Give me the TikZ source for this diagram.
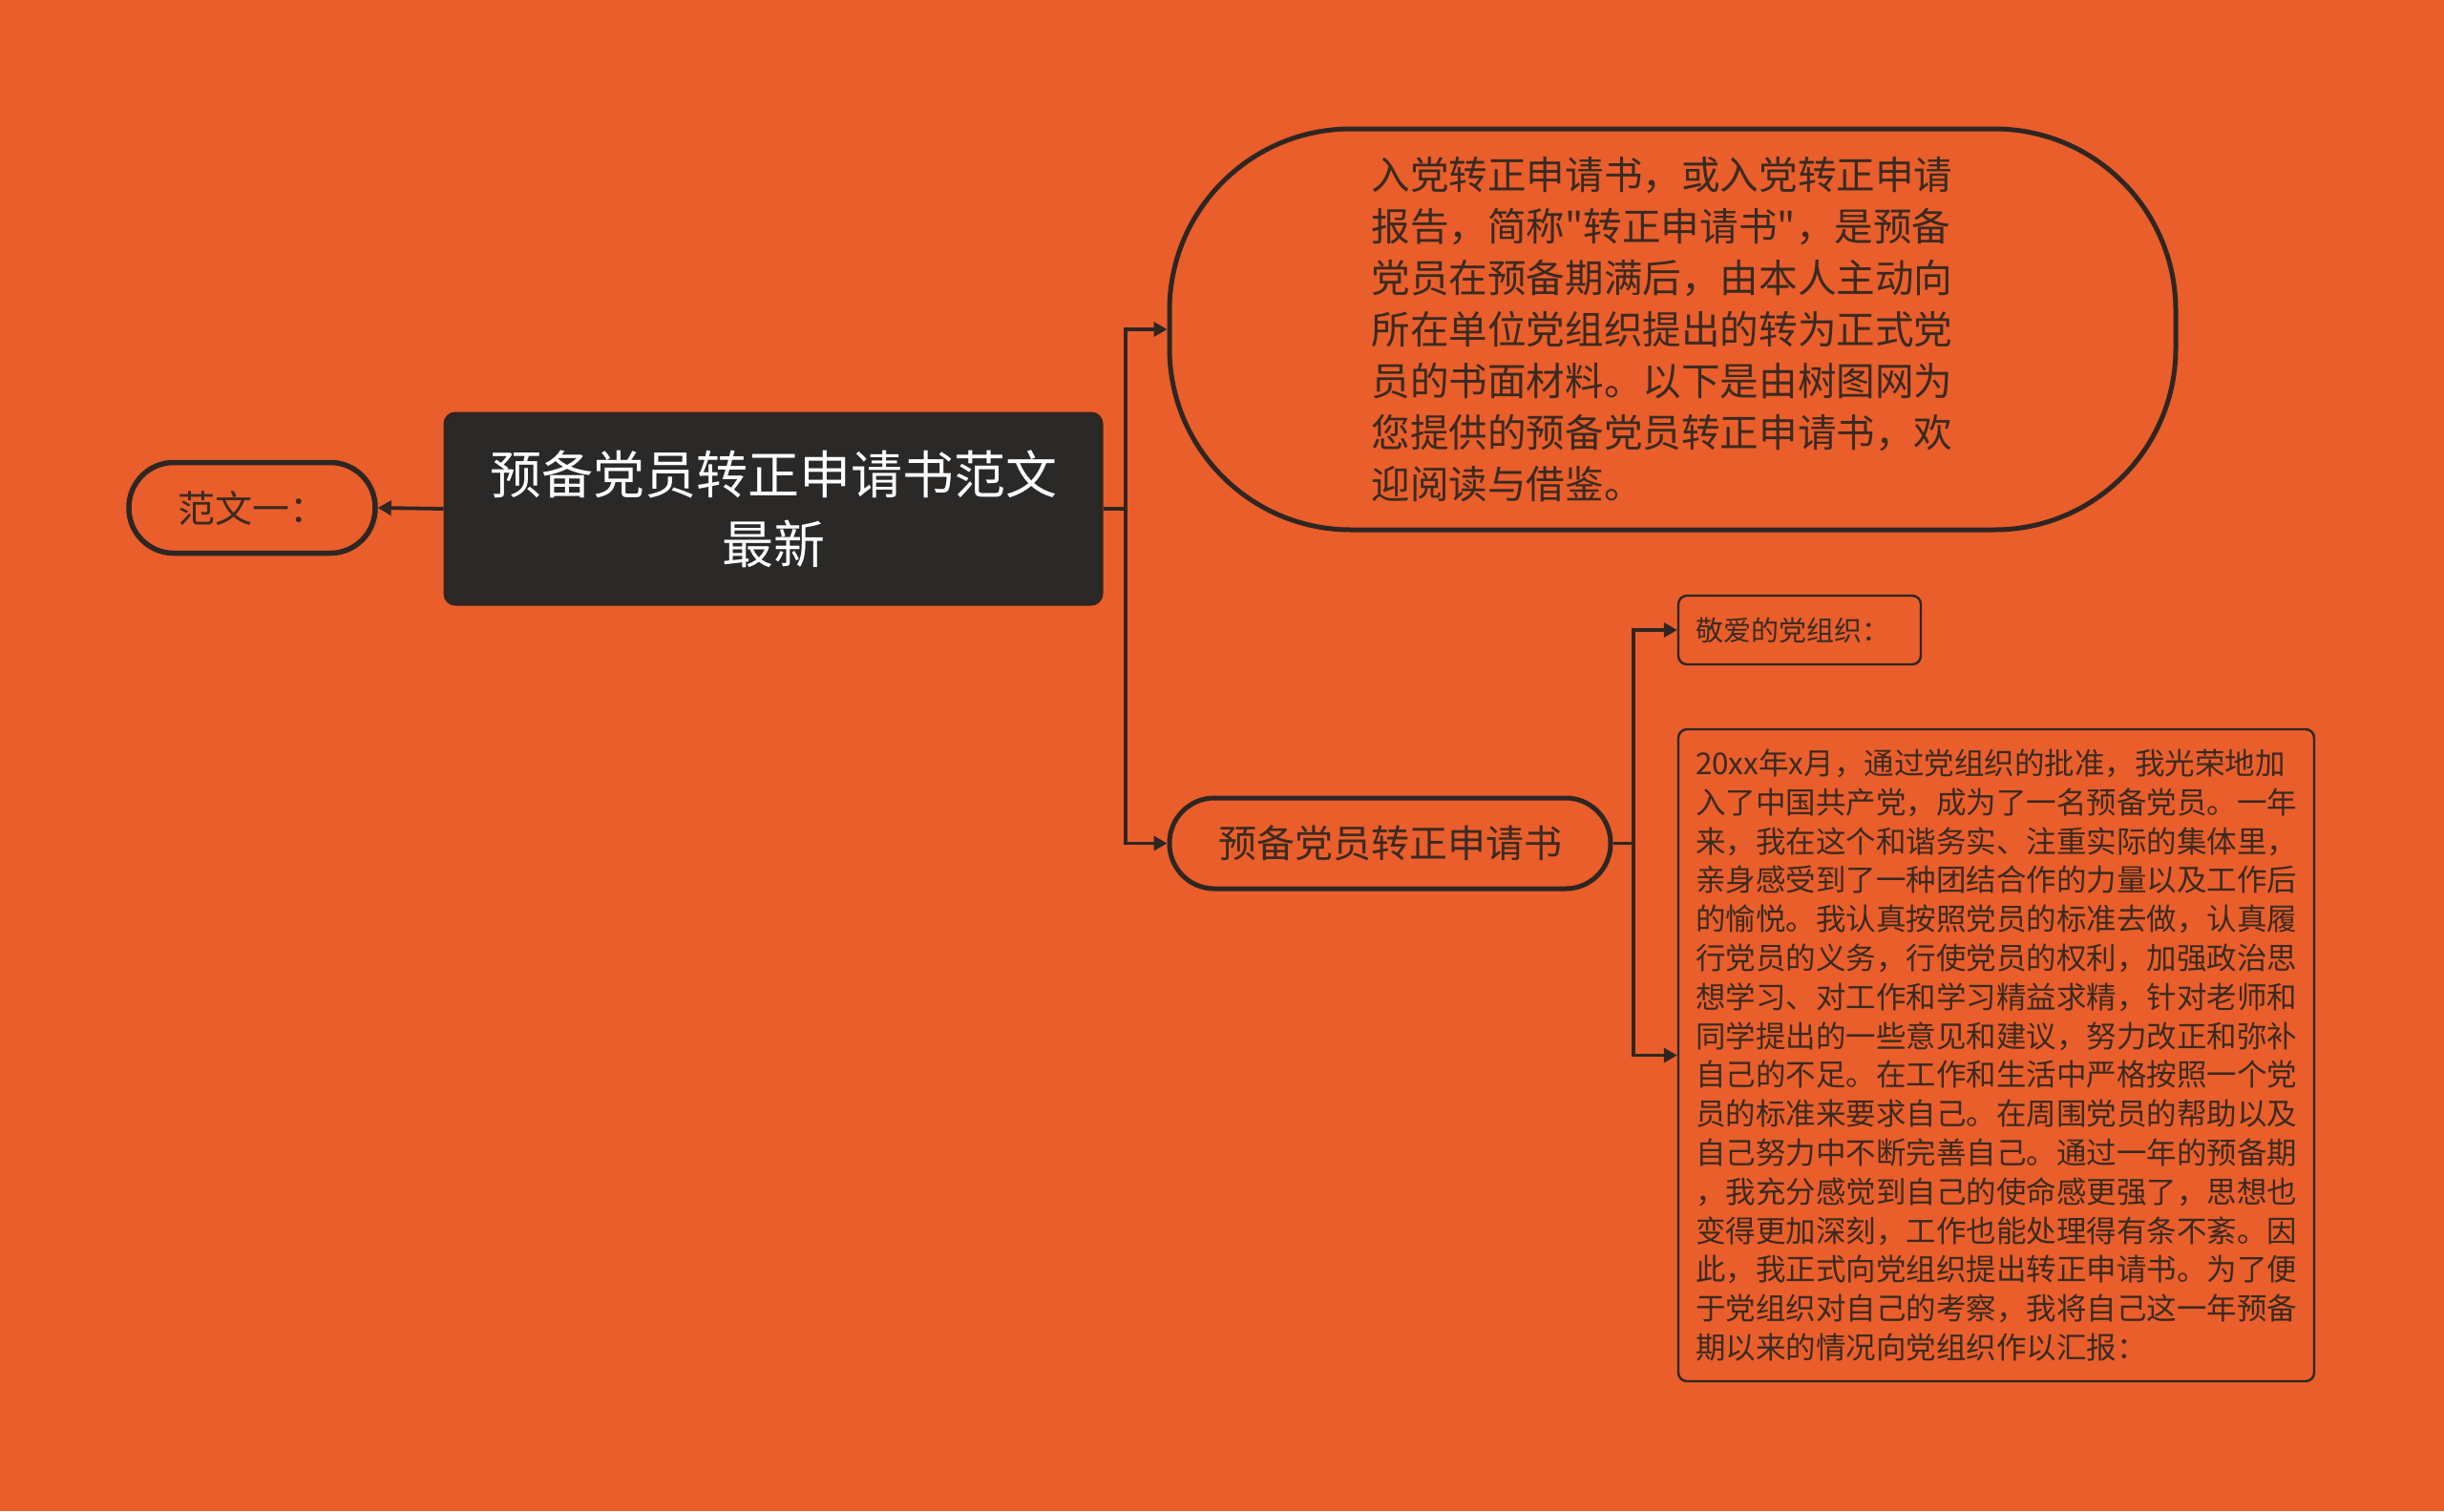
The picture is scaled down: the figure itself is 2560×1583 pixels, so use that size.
\documentclass[tikz,border=0pt]{standalone}
\usepackage{fontspec}
\setmainfont{Noto Sans CJK SC}[Ligatures=TeXOff]
\usetikzlibrary{arrows.meta}

\definecolor{bgorange}{HTML}{E95E2A}
\definecolor{inkdark}{HTML}{2E2622}
\definecolor{rootfill}{HTML}{2A2928}
\definecolor{textdark}{HTML}{3A2A20}

\begin{document}
\begin{tikzpicture}[x=1pt,y=-1pt,
    every node/.style={inner sep=0pt, text=textdark},
    link/.style={draw=inkdark, line width=3.8pt},
    tip/.style={link, -{Triangle[length=14pt,width=15pt]}},
    rootbox/.style={draw=inkdark, fill=rootfill, line width=5pt, rounded corners=10pt,
        minimum width=686pt, minimum height=198pt, align=center, text=white,
        font=\fontsize{54}{73}\selectfont},
    pill/.style={draw=inkdark, line width=5pt, rounded corners=#1, align=left},
    card/.style={draw=inkdark, line width=2.4pt, rounded corners=9pt, align=left}]

    % background and frame
    \fill[bgorange] (0,0) rectangle (2560,1583);
    \useasboundingbox (0,0) rectangle (2560,1583);

    % central topic
    \node[rootbox] (root) at (810,533) {预备党员转正申请书范文\\最新};

    % left branch
    \node[pill=47pt, line width=5.5pt, minimum width=258pt, minimum height=95pt,
        font=\fontsize{39}{44}\selectfont] (fanwen) at (264,532) {范文一：};
    \draw[tip] (root.west) -- (fanwen.east);

    % right branches
    \node[pill=190pt, minimum width=1054pt, minimum height=420pt, font=\fontsize{40.6}{54}\selectfont]
        (intro) at (1752,345) {入党转正申请书，或入党转正申请\\
        报告，简称"转正申请书"，是预备\\
        党员在预备期满后，由本人主动向\rule{22pt}{0pt}\\
        所在单位党组织提出的转为正式党\\
        员的书面材料。以下是由树图网为\\
        您提供的预备党员转正申请书，欢\\
        迎阅读与借鉴。};
    \node[pill=47pt, minimum width=462pt, minimum height=95pt, align=center,
        font=\fontsize{40}{48}\selectfont] (shu) at (1456,883.5) {预备党员转正申请书};

    \coordinate (j1) at (1179,533);
    \draw[link] (root.east) -- (j1);
    \draw[tip] (j1) |- (intro.west);
    \draw[tip] (j1) |- (shu.west);

    % letter
    \node[card, minimum width=254pt, minimum height=72pt, text width=218pt, inner xsep=18pt,
        font=\fontsize{29}{36}\selectfont] (dear) at (1885,660) {敬爱的党组织：};
    \node[card, minimum width=666pt, minimum height=683pt,
        font=\fontsize{31.5}{40.8}\selectfont] (body) at (2091,1105.5)
        {20xx年x月，通过党组织的批准，我光荣地加\\
        入了中国共产党，成为了一名预备党员。一年\\
        来，我在这个和谐务实、注重实际的集体里，\\
        亲身感受到了一种团结合作的力量以及工作后\\
        的愉悦。我认真按照党员的标准去做，认真履\\
        行党员的义务，行使党员的权利，加强政治思\\
        想学习、对工作和学习精益求精，针对老师和\\
        同学提出的一些意见和建议，努力改正和弥补\\
        自己的不足。在工作和生活中严格按照一个党\\
        员的标准来要求自己。在周围党员的帮助以及\\
        自己努力中不断完善自己。通过一年的预备期\\
        ，我充分感觉到自己的使命感更强了，思想也\\
        变得更加深刻，工作也能处理得有条不紊。因\\
        此，我正式向党组织提出转正申请书。为了便\\
        于党组织对自己的考察，我将自己这一年预备\\
        期以来的情况向党组织作以汇报：};

    \coordinate (j2) at (1711,883.5);
    \draw[link] (shu.east) -- (j2);
    \draw[tip] (j2) |- (dear.west);
    \draw[tip] (j2) |- (body.west);
\end{tikzpicture}
\end{document}
